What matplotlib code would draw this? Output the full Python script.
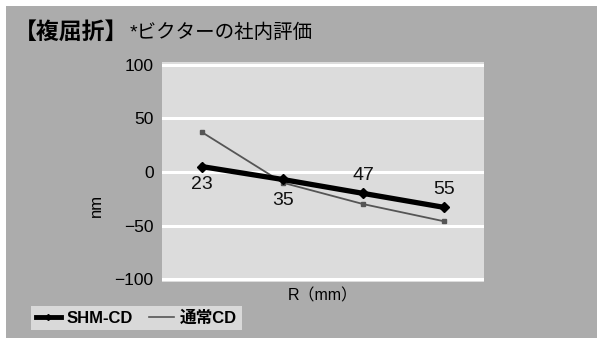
import matplotlib.pyplot as plt
from matplotlib.patches import Rectangle
from matplotlib.lines import Line2D

# ===== DATA =====
categories = ["23", "35", "47", "55"]
shm_cd = [5, -7, -20, -33]
normal_cd = [37, -10, -30, -46]
label_offsets = [-13, -15, 13, 13]  # px above/below SHM-CD point
yticks = [-100, -50, 0, 50, 100]

FONT = ["Liberation Sans", "Noto Sans CJK JP"]
plt.rcParams["font.family"] = FONT

W, H = 597, 338
fig = plt.figure(figsize=(W / 100, H / 100), dpi=100)
fig.patch.set_facecolor("white")

# gray panel
fig.patches.append(Rectangle((6 / W, 0), 1, 1 - 6 / H, transform=fig.transFigure,
                             facecolor="#acacac", edgecolor="none", zorder=-10))

ax = fig.add_axes([162 / W, 1 - 282 / H, 322 / W, 220 / H])
ax.set_facecolor("#dcdcdc")
x = list(range(len(categories)))

for yv in yticks:
    ax.axhline(yv, color="white", lw=2.2, zorder=1)

ax.plot(x, normal_cd, color="#555555", lw=1.3, marker="s", ms=2.5, zorder=2)
ax.plot(x, shm_cd, color="black", lw=3.8, marker="D", ms=5, zorder=3)

for i, c in enumerate(categories):
    ax.annotate(c, (x[i], shm_cd[i]), xytext=(0, label_offsets[i]),
                textcoords="offset points", ha="center", va="center",
                fontsize=14, color="#111111", zorder=4)

ax.set_xlim(-0.5, len(categories) - 0.5)
ax.set_ylim(-102.8, 102.8)
ax.set_yticks(yticks)
ax.set_yticklabels([f"\u2212{abs(v)}" if v < 0 else str(v) for v in yticks])
ax.set_xticks([])
ax.tick_params(axis="y", length=0, pad=6, labelsize=12.5)
for s in ax.spines.values():
    s.set_visible(False)

fig.text(96 / W, 1 - 205 / H, "nm", rotation=90, ha="center", va="center", fontsize=12)
fig.text(323 / W, 1 - 296 / H, "R\uff08mm\uff09", ha="center", va="center", fontsize=11.5)

# title
fig.text(14 / W, 1 - 32 / H, "【複屈折】", ha="left", va="center",
         fontsize=16.5, fontweight="bold")
fig.text(130 / W, 1 - 33 / H, "*ビクターの社内評価", ha="left", va="center",
         fontsize=14)

# legend
handles = [Line2D([], [], color="black", lw=3.5, marker="D", ms=3),
           Line2D([], [], color="#555555", lw=1.2)]
leg = fig.legend(handles, ["SHM-CD", "通常CD"], loc="center left",
                 bbox_to_anchor=(23 / W, 1 - 318 / H), ncol=2, frameon=True,
                 fontsize=12, handlelength=1.5, handletextpad=0.35,
                 columnspacing=1.0, borderpad=0.25, fancybox=False)
leg.get_frame().set_facecolor("#d9d9d9")
leg.get_frame().set_edgecolor("none")
leg.get_frame().set_alpha(1)
for t in leg.get_texts():
    t.set_fontweight("bold")

fig.savefig("out.png", dpi=100)
